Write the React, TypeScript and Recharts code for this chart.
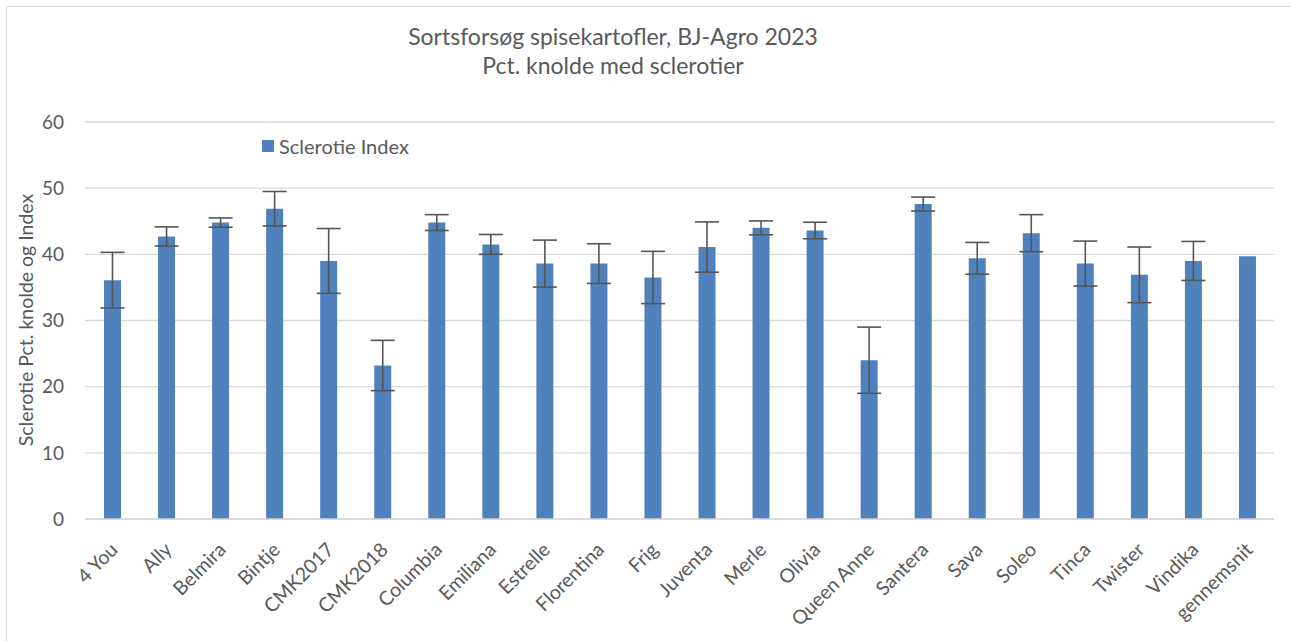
import { Bar, BarChart, CartesianGrid, ErrorBar, Legend, XAxis, YAxis } from "recharts";

const varieties = [
  "4 You", "Ally", "Belmira", "Bintje", "CMK2017", "CMK2018", "Columbia", "Emiliana",
  "Estrelle", "Florentina", "Frig", "Juventa", "Merle", "Olivia", "Queen Anne", "Santera",
  "Sava", "Soleo", "Tinca", "Twister", "Vindika", "gennemsnit",
];

const sclerotieIndex = [
  36.1, 42.7, 44.8, 46.9, 39.0, 23.2, 44.8, 41.5, 38.6, 38.6, 36.5,
  41.1, 44.0, 43.6, 24.0, 47.6, 39.4, 43.2, 38.6, 36.9, 39.0, 39.7,
];

// half-width of the error bar, none on the average
const errorHalf: (number | null)[] = [
  4.2, 1.45, 0.7, 2.6, 4.9, 3.8, 1.2, 1.5, 3.55, 3.0, 3.95,
  3.8, 1.05, 1.25, 5.0, 1.05, 2.4, 2.8, 3.4, 4.2, 2.95, null,
];

const yTicks = [0, 10, 20, 30, 40, 50, 60];

const data = varieties.map((name, i) => ({
  name,
  value: sclerotieIndex[i],
  err: errorHalf[i],
}));

const FONT = "Lato, 'Open Sans', sans-serif";
const TEXT = "#595959";
const GRID = "#d9d9d9";
const BLUE = "#4f81bd";

function AngledTick(props: any) {
  const { x, y, payload } = props;
  return (
    <g transform={`translate(${x + 7},${y + 32})`}>
      <text
        x={0}
        y={0}
        textAnchor="end"
        transform="rotate(-45)"
        fill={TEXT}
        fontSize={19.5}
        fontFamily={FONT}
      >
        {payload.value}
      </text>
    </g>
  );
}

function LegendBox() {
  return (
    <div style={{ display: "flex", alignItems: "center", fontFamily: FONT, fontSize: 20, color: TEXT }}>
      <span style={{ width: 12, height: 12, background: BLUE, display: "inline-block", marginRight: 5 }} />
      Sclerotie Index
    </div>
  );
}

export default function App() {
  return (
    <div
      style={{
        position: "absolute",
        left: 0,
        top: 0,
        width: 1291,
        height: 641,
        overflow: "hidden",
        background: "#fff",
      }}
    >
      <div
        style={{
          position: "absolute",
          left: 6,
          top: 6,
          width: 1320,
          height: 700,
          border: `1.5px solid ${GRID}`,
        }}
      />
      <div
        style={{
          position: "absolute",
          left: 313,
          width: 600,
          top: 22,
          textAlign: "center",
          fontFamily: FONT,
          fontSize: 23,
          lineHeight: "29px",
          color: TEXT,
        }}
      >
        <div>Sortsforsøg spisekartofler, BJ-Agro 2023</div>
        <div>Pct. knolde med sclerotier</div>
      </div>
      <div
        style={{
          position: "absolute",
          left: 25,
          top: 320,
          transform: "translate(-50%, -50%) rotate(-90deg)",
          whiteSpace: "nowrap",
          fontFamily: FONT,
          fontSize: 19.5,
          color: TEXT,
        }}
      >
        Sclerotie Pct. knolde og Index
      </div>
      <BarChart
        width={1291}
        height={641}
        data={data}
        margin={{ top: 122, right: 17, bottom: 92, left: 0 }}
        barCategoryGap={0}
      >
        <CartesianGrid vertical={false} stroke={GRID} strokeWidth={1.3} />
        <XAxis
          dataKey="name"
          interval={0}
          height={30}
          tickLine={false}
          tickSize={0}
          tickMargin={0}
          axisLine={{ stroke: GRID, strokeWidth: 1.3 }}
          tick={<AngledTick />}
        />
        <YAxis
          width={85}
          domain={[0, 60]}
          ticks={yTicks}
          axisLine={false}
          tickLine={false}
          tickSize={0}
          tickMargin={21}
          tick={{ fill: TEXT, fontSize: 19, fontFamily: FONT }}
        />
        <Legend
          layout="vertical"
          verticalAlign="middle"
          align="center"
          content={<LegendBox />}
          wrapperStyle={{ left: 262, top: 134, width: "auto" }}
        />
        <Bar dataKey="value" name="Sclerotie Index" fill={BLUE} barSize={17} isAnimationActive={false}>
          <ErrorBar dataKey="err" width={12} stroke="#555" strokeWidth={1.6} direction="y" />
        </Bar>
      </BarChart>
    </div>
  );
}
